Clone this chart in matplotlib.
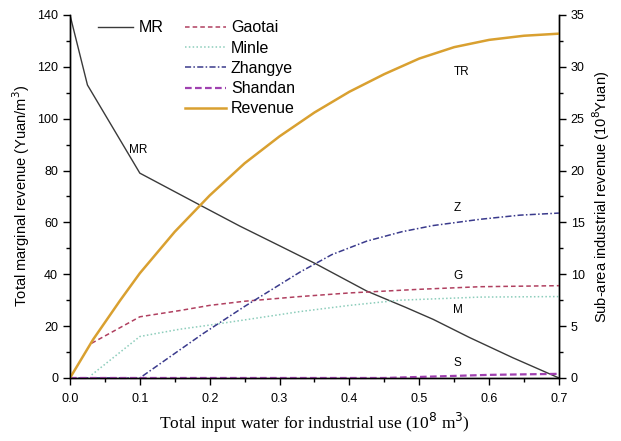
"""Marginal revenue and sub-area industrial revenue vs. water input."""

import matplotlib

matplotlib.use("Agg")
import matplotlib.pyplot as plt
from matplotlib.ticker import MultipleLocator

plt.rcParams["font.family"] = ["Liberation Sans", "DejaVu Sans"]

# total marginal revenue (Yuan/m3), left axis
mr_x = [0.0, 0.025, 0.1, 0.186, 0.243, 0.3, 0.35, 0.425, 0.48, 0.52, 0.572, 0.634, 0.7]
mr_y = [140, 113, 79, 66.7, 58.6, 51, 44.3, 33.5, 27.3, 22.6, 15.6, 7.8, 0]

# total revenue (10^8 Yuan), right axis
tr_x = [0.0, 0.033, 0.072, 0.1, 0.15, 0.2, 0.25, 0.3, 0.35, 0.4, 0.45, 0.5, 0.55, 0.6, 0.65, 0.7]
tr_y = [0.0, 3.7, 7.5, 10.1, 14.1, 17.6, 20.7, 23.3, 25.6, 27.6, 29.3, 30.8, 31.9, 32.6, 33.0, 33.2]

# sub-area revenues (10^8 Yuan), right axis
gaotai_x = [0.031, 0.1, 0.157, 0.2, 0.25, 0.329, 0.4, 0.5, 0.587, 0.7]
gaotai_y = [3.35, 5.9, 6.5, 7.0, 7.4, 7.85, 8.2, 8.55, 8.8, 8.9]
minle_x = [0.031, 0.1, 0.157, 0.2, 0.25, 0.329, 0.4, 0.472, 0.587, 0.7]
minle_y = [0.3, 4.0, 4.7, 5.1, 5.6, 6.4, 7.0, 7.5, 7.8, 7.85]
zhangye_x = [0.0, 0.1, 0.157, 0.191, 0.25, 0.329, 0.375, 0.425, 0.475, 0.52, 0.587, 0.644, 0.7]
zhangye_y = [0.0, 0.0, 2.7, 4.3, 6.9, 10.2, 11.9, 13.2, 14.1, 14.7, 15.3, 15.7, 15.9]
shandan_x = [0.0, 0.45, 0.5, 0.6, 0.7]
shandan_y = [0.0, 0.0, 0.1, 0.3, 0.4]

fig = plt.figure(figsize=(6.21, 4.41), dpi=100)
ax1 = fig.add_axes([0.1127, 0.1429, 0.7874, 0.8231])
ax2 = ax1.twinx()

(mr_line,) = ax1.plot(mr_x, mr_y, color="#3a3a3a", linewidth=1.0, label="MR")

(g_line,) = ax2.plot(gaotai_x, gaotai_y, color="#b04060", linewidth=1.1,
                     linestyle=(0, (3, 2)), label="Gaotai")
(m_line,) = ax2.plot(minle_x, minle_y, color="#8ccdbb", linewidth=1.1,
                     linestyle=(0, (1, 1.5)), label="Minle")
(z_line,) = ax2.plot(zhangye_x, zhangye_y, color="#3a3a8c", linewidth=1.1,
                     linestyle=(0, (4, 1.5, 1, 1.5)), label="Zhangye")
(s_line,) = ax2.plot(shandan_x, shandan_y, color="#a040b0", linewidth=1.6,
                     linestyle=(0, (3, 1.5)), label="Shandan", clip_on=False)
(r_line,) = ax2.plot(tr_x, tr_y, color="#d9a030", linewidth=1.8, label="Revenue")

ax1.set_xlim(0, 0.7)
ax1.set_ylim(0, 140)
ax2.set_ylim(0, 35)

ax1.xaxis.set_major_locator(MultipleLocator(0.1))
ax1.xaxis.set_minor_locator(MultipleLocator(0.05))
ax1.yaxis.set_major_locator(MultipleLocator(20))
ax1.yaxis.set_minor_locator(MultipleLocator(10))
ax2.yaxis.set_major_locator(MultipleLocator(5))
ax2.yaxis.set_minor_locator(MultipleLocator(2.5))
ax1.xaxis.set_major_formatter(plt.FuncFormatter(lambda v, p: f"{v:.1f}"))

for ax in (ax1, ax2):
    ax.spines["top"].set_visible(False)
    ax.tick_params(which="major", direction="out", length=5, width=1, labelsize=9)
    ax.tick_params(which="minor", direction="out", length=3, width=1)
    for sp in ax.spines.values():
        sp.set_linewidth(1.0)
ax1.tick_params(axis="x", pad=6)

ax1.set_ylabel("Total marginal revenue (Yuan/m$^3$)", fontsize=10.5)
ax2.set_ylabel("Sub-area industrial revenue (10$^8$Yuan)", fontsize=10.5)
ax1.set_xlabel("Total input water for industrial use (10$^8$ m$^3$)",
               fontsize=12.5, family="Liberation Serif")

# curve labels
ax1.text(0.097, 88, "MR", fontsize=8.5, ha="center", va="center")
ax2.text(0.561, 29.5, "TR", fontsize=8.5, ha="center", va="center")
ax2.text(0.555, 16.4, "Z", fontsize=8.5, ha="center", va="center")
ax2.text(0.555, 9.8, "G", fontsize=8.5, ha="center", va="center")
ax2.text(0.555, 6.6, "M", fontsize=8.5, ha="center", va="center")
ax2.text(0.555, 1.45, "S", fontsize=8.5, ha="center", va="center")

leg1 = ax2.legend(handles=[mr_line], loc="upper left", bbox_to_anchor=(0.027, 1.025),
                  frameon=False, fontsize=11.5, handlelength=2.2, handletextpad=0.4)
ax2.add_artist(leg1)
ax2.legend(handles=[g_line, m_line, z_line, s_line, r_line], loc="upper left",
           bbox_to_anchor=(0.205, 1.025), frameon=False, fontsize=11.5,
           handlelength=2.6, handletextpad=0.3, labelspacing=0.33)

fig.savefig("out.png", dpi=100)
